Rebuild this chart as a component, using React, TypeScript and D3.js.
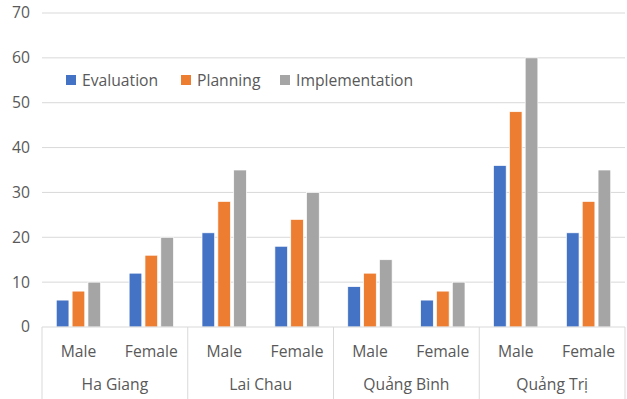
import React, { useEffect, useRef } from 'react';
import * as d3 from 'd3';

const provinces = ['Ha Giang', 'Lai Chau', 'Quảng Bình', 'Quảng Trị'];
const genders = ['Male', 'Female'];
const seriesNames = ['Evaluation', 'Planning', 'Implementation'];
const colors = ['#4472C4', '#ED7D31', '#A5A5A5'];

// one entry per province x gender, in order
const evaluation = [6, 12, 21, 18, 9, 6, 36, 21];
const planning = [8, 16, 28, 24, 12, 8, 48, 28];
const implementation = [10, 20, 35, 30, 15, 10, 60, 35];
const yTicks = [0, 10, 20, 30, 40, 50, 60, 70];

export default function App() {
  const ref = useRef<SVGSVGElement>(null);

  useEffect(() => {
    const svg = d3.select(ref.current);
    svg.selectAll('*').remove();
    const W = 627, H = 399;
    const margin = { top: 13, right: 2, bottom: 72, left: 42 };
    const font = "'Open Sans', sans-serif";
    const fs = 15.7;
    const textColor = '#595959';
    const lineColor = '#D9D9D9';

    const cats = provinces.flatMap(p => genders.map(g => `${p}|${g}`));
    const values = [evaluation, planning, implementation];

    const x = d3.scaleBand().domain(cats).range([margin.left, W - margin.right]).paddingInner(0).paddingOuter(0);
    const y = d3.scaleLinear().domain([0, 70]).range([H - margin.bottom, margin.top]);
    const inner = d3.scaleBand().domain(seriesNames).range([0, x.bandwidth()]).paddingInner(0.2).paddingOuter(0.9);

    // gridlines
    svg.append('g').selectAll('line').data(yTicks.slice(1)).join('line')
      .attr('x1', margin.left).attr('x2', W - margin.right)
      .attr('y1', d => y(d)).attr('y2', d => y(d))
      .attr('stroke', lineColor).attr('stroke-width', 1);

    // y labels
    svg.append('g').selectAll('text').data(yTicks).join('text')
      .attr('x', 30).attr('y', d => y(d)).attr('dy', '0.35em')
      .attr('text-anchor', 'end').attr('font-family', font).attr('font-size', fs)
      .attr('fill', textColor).text(d => d);

    // bars
    seriesNames.forEach((s, si) => {
      svg.append('g').selectAll('rect').data(values[si]).join('rect')
        .attr('x', (d, i) => (x(cats[i]) as number) + (inner(s) as number))
        .attr('width', inner.bandwidth())
        .attr('y', d => y(d))
        .attr('height', d => y(0) - y(d))
        .attr('fill', colors[si])
        .attr('stroke', '#fff').attr('stroke-width', 0.7);
    });

    // x axis line
    const y0 = y(0);
    svg.append('line').attr('x1', margin.left).attr('x2', W - margin.right)
      .attr('y1', y0).attr('y2', y0).attr('stroke', lineColor);

    // group separators
    const bounds = provinces.map(p => x(`${p}|Male`) as number).concat([W - margin.right]);
    svg.append('g').selectAll('line').data(bounds).join('line')
      .attr('x1', d => d).attr('x2', d => d)
      .attr('y1', y0).attr('y2', H)
      .attr('stroke', lineColor);

    // gender labels
    svg.append('g').selectAll('text').data(cats).join('text')
      .attr('x', d => (x(d) as number) + x.bandwidth() / 2)
      .attr('y', 352).attr('dy', '0.35em')
      .attr('text-anchor', 'middle').attr('font-family', font).attr('font-size', fs)
      .attr('fill', textColor).text(d => d.split('|')[1]);

    // province labels
    svg.append('g').selectAll('text').data(provinces).join('text')
      .attr('x', d => (x(`${d}|Male`) as number) + x.bandwidth())
      .attr('y', 385).attr('dy', '0.35em')
      .attr('text-anchor', 'middle').attr('font-family', font).attr('font-size', fs)
      .attr('fill', textColor).text(d => d);

    // legend
    const legendX = [66, 181, 280];
    const lg = svg.append('g').selectAll('g').data(seriesNames).join('g')
      .attr('transform', (d, i) => `translate(${legendX[i]},80)`);
    lg.append('rect').attr('x', 0).attr('y', -5).attr('width', 10).attr('height', 10)
      .attr('fill', (d, i) => colors[i]);
    lg.append('text').attr('x', 16).attr('y', 0).attr('dy', '0.35em')
      .attr('font-family', font).attr('font-size', fs).attr('fill', textColor).text(d => d);
  }, []);

  return (
    <svg ref={ref} width={627} height={399}
      style={{ position: 'absolute', left: 0, top: 0, background: '#fff' }} />
  );
}
